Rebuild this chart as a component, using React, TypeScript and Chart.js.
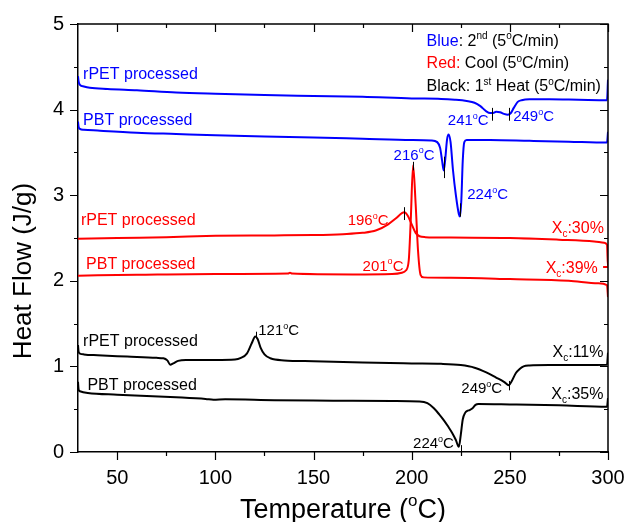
import React, { useEffect, useRef } from "react";
import { Chart, registerables } from "chart.js";

Chart.register(...registerables);

const FONT = "'Liberation Sans', Arial, Helvetica, sans-serif";
const BLUE = "#0000ff";
const RED = "#ff0000";
const BLACK = "#000000";

// axis ticks
const xTicks = [50, 100, 150, 200, 250, 300];
const xMinor = [75, 125, 175, 225, 275];
const yTicks = [0, 1, 2, 3, 4, 5];
const yMinor = [0.5, 1.5, 2.5, 3.5, 4.5];

// Blue: 2nd heat, rPET processed
const blueRpetX = [30, 30.3, 31, 33, 36, 45, 60, 80, 100, 125, 150, 175, 200, 215, 222, 228, 232, 235, 238, 240, 241.5, 243, 245, 247, 249, 250.5, 252, 254, 256, 260, 270, 285, 299.5, 300];
const blueRpetY = [4.39, 4.33, 4.29, 4.27, 4.255, 4.24, 4.225, 4.2, 4.185, 4.17, 4.16, 4.15, 4.13, 4.125, 4.115, 4.1, 4.08, 4.04, 3.98, 3.96, 3.96, 3.975, 3.97, 3.95, 3.94, 3.96, 4.02, 4.09, 4.11, 4.12, 4.12, 4.115, 4.11, 4.35];

// Blue: 2nd heat, PBT processed
const bluePbtX = [30, 30.3, 31, 33, 40, 60, 80, 100, 125, 150, 175, 200, 210, 213, 214.5, 215.5, 216.3, 217, 218, 218.8, 219.8, 221, 222.5, 224, 224.6, 225.3, 226, 226.8, 228, 240, 260, 280, 299.5, 300];
const bluePbtY = [3.86, 3.8, 3.775, 3.765, 3.755, 3.73, 3.715, 3.7, 3.685, 3.675, 3.66, 3.645, 3.64, 3.62, 3.55, 3.4, 3.29, 3.4, 3.65, 3.71, 3.62, 3.3, 3.0, 2.78, 2.75, 2.95, 3.4, 3.62, 3.645, 3.645, 3.635, 3.625, 3.615, 3.74];

// Red: cool, rPET processed
const redRpetX = [30, 50, 75, 100, 130, 150, 165, 175, 182, 188, 192, 195, 196.3, 198, 200, 202, 204, 207, 220, 250, 275, 293, 298, 299.5, 300, 297.5];
const redRpetY = [2.49, 2.5, 2.51, 2.525, 2.53, 2.535, 2.545, 2.56, 2.59, 2.66, 2.73, 2.79, 2.8, 2.76, 2.66, 2.56, 2.52, 2.51, 2.505, 2.5, 2.48, 2.46, 2.445, 2.42, 2.16, 2.16];

// Red: cool, PBT processed
const redPbtX = [30, 60, 100, 137, 138, 139, 170, 190, 195, 197, 198.5, 199.5, 200.7, 202, 203.2, 204.5, 206, 220, 250, 280, 295, 299.5, 300];
const redPbtY = [2.06, 2.07, 2.08, 2.085, 2.095, 2.085, 2.075, 2.08, 2.095, 2.12, 2.24, 2.7, 3.35, 2.9, 2.36, 2.07, 2.04, 2.035, 2.02, 2.0, 1.97, 1.95, 1.81];

// Black: 1st heat, rPET processed
const blackRpetX = [30, 30.3, 31, 33, 40, 55, 70, 73.5, 75.5, 77, 78.5, 81, 85, 100, 110, 113, 116, 118.5, 120.3, 121.5, 123, 125, 128, 135, 150, 175, 200, 215, 225, 232, 238, 243, 247, 249.5, 251, 253, 255, 257, 260, 270, 299.5, 300];
const blackRpetY = [1.25, 1.17, 1.15, 1.14, 1.13, 1.115, 1.1, 1.095, 1.07, 1.02, 1.035, 1.065, 1.075, 1.075, 1.08, 1.1, 1.15, 1.27, 1.35, 1.32, 1.22, 1.14, 1.095, 1.07, 1.06, 1.045, 1.035, 1.03, 1.015, 0.985, 0.93, 0.87, 0.82, 0.78, 0.83, 0.92, 0.97, 1.0, 1.01, 1.015, 1.02, 1.16];

// Black: 1st heat, PBT processed
const blackPbtX = [30, 30.3, 31, 35, 50, 80, 95, 99, 105, 130, 160, 190, 204, 208, 211.3, 214, 216.4, 218.5, 220.7, 222.5, 224, 225, 226, 227.3, 228.3, 229.5, 231, 232.5, 234, 250, 275, 299.5, 300];
const blackPbtY = [0.82, 0.73, 0.71, 0.69, 0.67, 0.64, 0.62, 0.61, 0.615, 0.605, 0.6, 0.595, 0.59, 0.57, 0.51, 0.44, 0.37, 0.3, 0.22, 0.14, 0.06, 0.2, 0.38, 0.46, 0.48, 0.49, 0.51, 0.55, 0.56, 0.555, 0.545, 0.53, 0.63];

// curve labels: [x, y, text, color, align, size]
const curveLabels: [number, number, string, string, string, number][] = [
  [32.6, 4.42, "rPET processed", BLUE, "left", 16],
  [32.6, 3.89, "PBT processed", BLUE, "left", 16],
  [31.5, 2.72, "rPET processed", RED, "left", 16],
  [34.1, 2.21, "PBT processed", RED, "left", 16],
  [32.6, 1.31, "rPET processed", BLACK, "left", 16],
  [34.8, 0.79, "PBT processed", BLACK, "left", 16],
];

// peak / crystallinity labels: [x, y, text, color, align, size]
const peakLabels: [number, number, string, string, string, number][] = [
  [121.8, 1.425, "121^{o}C", BLACK, "left", 15],
  [239.2, 3.88, "241^{o}C", BLUE, "right", 15],
  [251.7, 3.93, "249^{o}C", BLUE, "left", 15],
  [211.6, 3.48, "216^{o}C", BLUE, "right", 15],
  [228.3, 3.02, "224^{o}C", BLUE, "left", 15],
  [188.2, 2.71, "196^{o}C", RED, "right", 15],
  [195.8, 2.18, "201^{o}C", RED, "right", 15],
  [246.1, 0.75, "249^{o}C", BLACK, "right", 15],
  [221.5, 0.11, "224^{o}C", BLACK, "right", 15],
  [297.9, 2.63, "X_{c}:30%", RED, "right", 16],
  [294.8, 2.16, "X_{c}:39%", RED, "right", 16],
  [297.7, 1.18, "X_{c}:11%", BLACK, "right", 16],
  [297.7, 0.69, "X_{c}:35%", BLACK, "right", 16],
];

// legend note lines: [x, y, text]
const noteLines: [number, number, string][] = [
  [207.6, 4.81, "[#0000ff|Blue]: 2^{nd} (5^{o}C/min)"],
  [207.6, 4.55, "[#ff0000|Red:] Cool (5^{o}C/min)"],
  [207.6, 4.28, "Black: 1^{st} Heat (5^{o}C/min)"],
];

// peak markers: [x, yTop, yBottom]
const peakMarkers: [number, number, number][] = [
  [241.1, 4.02, 3.87],
  [249.5, 4.02, 3.87],
  [216.4, 3.45, 3.2],
  [224.5, 2.905, 2.75],
  [200.9, 3.39, 3.29],
  [196.3, 2.86, 2.71],
  [120.8, 1.405, 1.33],
  [249.5, 0.83, 0.72],
  [224.9, 0.08, 0.0],
];

type Seg = { t: string; mode: "n" | "sup" | "sub"; color?: string };

function parseRich(s: string): Seg[] {
  const segs: Seg[] = [];
  const re = /\^\{([^}]*)\}|_\{([^}]*)\}|\[([^|\]]+)\|([^\]]*)\]/g;
  let last = 0;
  let m: RegExpExecArray | null;
  while ((m = re.exec(s))) {
    if (m.index > last) segs.push({ t: s.slice(last, m.index), mode: "n" });
    if (m[1] !== undefined) segs.push({ t: m[1], mode: "sup" });
    else if (m[2] !== undefined) segs.push({ t: m[2], mode: "sub" });
    else segs.push({ t: m[4], mode: "n", color: m[3] });
    last = re.lastIndex;
  }
  if (last < s.length) segs.push({ t: s.slice(last), mode: "n" });
  return segs;
}

function drawRich(
  ctx: CanvasRenderingContext2D,
  text: string,
  x: number,
  yCenter: number,
  align: string,
  size: number,
  color: string
) {
  const segs = parseRich(text);
  const small = Math.round(size * 0.62);
  const fontOf = (sg: Seg) => `${sg.mode === "n" ? size : small}px ${FONT}`;
  let total = 0;
  for (const sg of segs) {
    ctx.font = fontOf(sg);
    total += ctx.measureText(sg.t).width;
  }
  let cx = align === "right" ? x - total : align === "center" ? x - total / 2 : x;
  const base = yCenter + size * 0.36;
  ctx.textAlign = "left";
  ctx.textBaseline = "alphabetic";
  for (const sg of segs) {
    ctx.font = fontOf(sg);
    ctx.fillStyle = sg.color || color;
    const yy = sg.mode === "sup" ? base - size * 0.42 : sg.mode === "sub" ? base + size * 0.28 : base;
    ctx.fillText(sg.t, cx, yy);
    cx += ctx.measureText(sg.t).width;
  }
}

const decorPlugin = {
  id: "decor",
  afterDraw(chart: any) {
    const ctx: CanvasRenderingContext2D = chart.ctx;
    const xs = chart.scales.x;
    const ys = chart.scales.y;
    const { left, right, top, bottom } = chart.chartArea;
    ctx.save();
    // frame top/right
    ctx.strokeStyle = "#000";
    ctx.lineWidth = 1.5;
    ctx.beginPath();
    ctx.moveTo(left, top);
    ctx.lineTo(right, top);
    ctx.lineTo(right, bottom);
    ctx.stroke();
    // tick marks
    ctx.lineWidth = 1.2;
    ctx.beginPath();
    const xt = (v: number, len: number) => {
      const p = Math.round(xs.getPixelForValue(v)) + 0.5;
      ctx.moveTo(p, bottom);
      ctx.lineTo(p, bottom + len);
      ctx.moveTo(p, top);
      ctx.lineTo(p, top + len);
    };
    const yt = (v: number, len: number) => {
      const p = Math.round(ys.getPixelForValue(v)) + 0.5;
      ctx.moveTo(left, p);
      ctx.lineTo(left - len, p);
      ctx.moveTo(right, p);
      ctx.lineTo(right - len, p);
    };
    xTicks.forEach((v) => xt(v, 8));
    xMinor.forEach((v) => xt(v, 4));
    yTicks.forEach((v) => yt(v, 8));
    yMinor.forEach((v) => yt(v, 4));
    ctx.stroke();

    // peak markers
    ctx.lineWidth = 1;
    ctx.strokeStyle = "#000";
    ctx.beginPath();
    for (const [mx, y1, y2] of peakMarkers) {
      const p = Math.round(xs.getPixelForValue(mx)) + 0.5;
      ctx.moveTo(p, ys.getPixelForValue(y1));
      ctx.lineTo(p, ys.getPixelForValue(y2));
    }
    ctx.stroke();

    // labels
    for (const [lx, ly, t, c, a, s] of curveLabels) {
      drawRich(ctx, t, xs.getPixelForValue(lx), ys.getPixelForValue(ly), a, s, c);
    }
    for (const [lx, ly, t, c, a, s] of peakLabels) {
      drawRich(ctx, t, xs.getPixelForValue(lx), ys.getPixelForValue(ly), a, s, c);
    }
    for (const [lx, ly, t] of noteLines) {
      drawRich(ctx, t, xs.getPixelForValue(lx), ys.getPixelForValue(ly), "left", 16, BLACK);
    }

    // axis titles
    drawRich(ctx, "Temperature (^{o}C)", (left + right) / 2, 508, "center", 27, BLACK);
    ctx.save();
    ctx.translate(22, 271);
    ctx.rotate(-Math.PI / 2);
    drawRich(ctx, "Heat Flow (J/g)", 0, 0, "center", 26, BLACK);
    ctx.restore();

    ctx.restore();
  },
};

function series(xv: number[], yv: number[], color: string) {
  return {
    data: xv.map((x, i) => ({ x, y: yv[i] })),
    borderColor: color,
    backgroundColor: color,
    borderWidth: 2,
    pointRadius: 0,
    fill: false,
    cubicInterpolationMode: "monotone" as const,
    borderJoinStyle: "round" as const,
  };
}

export default function App() {
  const ref = useRef<HTMLCanvasElement>(null);
  useEffect(() => {
    if (!ref.current) return;
    const chart = new Chart(ref.current, {
      type: "line",
      data: {
        datasets: [
          series(blueRpetX, blueRpetY, BLUE),
          series(bluePbtX, bluePbtY, BLUE),
          series(redRpetX, redRpetY, RED),
          series(redPbtX, redPbtY, RED),
          series(blackRpetX, blackRpetY, BLACK),
          series(blackPbtX, blackPbtY, BLACK),
        ] as any,
      },
      options: {
        animation: false,
        responsive: false,
        devicePixelRatio: 1,
        layout: { padding: { top: 24, right: 20, left: 0, bottom: 0 } },
        plugins: { legend: { display: false }, tooltip: { enabled: false } },
        scales: {
          x: {
            type: "linear",
            min: 30,
            max: 300,
            afterBuildTicks: (s: any) => {
              s.ticks = xTicks.map((v) => ({ value: v }));
            },
            afterFit: (s: any) => {
              s.height = 70;
            },
            grid: { display: false, drawTicks: true, tickLength: 14 },
            border: { display: true, color: "#000", width: 1.5 },
            ticks: {
              padding: 0,
              color: "#000",
              font: { family: FONT, size: 20 },
              maxRotation: 0,
              autoSkip: false,
            },
          },
          y: {
            type: "linear",
            min: 0,
            max: 5,
            afterBuildTicks: (s: any) => {
              s.ticks = yTicks.map((v) => ({ value: v }));
            },
            afterFit: (s: any) => {
              s.width = 78;
            },
            grid: { display: false, drawTicks: true, tickLength: 14 },
            border: { display: true, color: "#000", width: 1.5 },
            ticks: {
              padding: 0,
              color: "#000",
              font: { family: FONT, size: 20 },
              autoSkip: false,
            },
          },
        },
      } as any,
      plugins: [decorPlugin],
    });
    return () => chart.destroy();
  }, []);
  return (
    <div style={{ position: "absolute", left: 0, top: 0, width: 628, height: 522, background: "#fff" }}>
      <canvas ref={ref} width={628} height={522} style={{ display: "block" }} />
    </div>
  );
}
